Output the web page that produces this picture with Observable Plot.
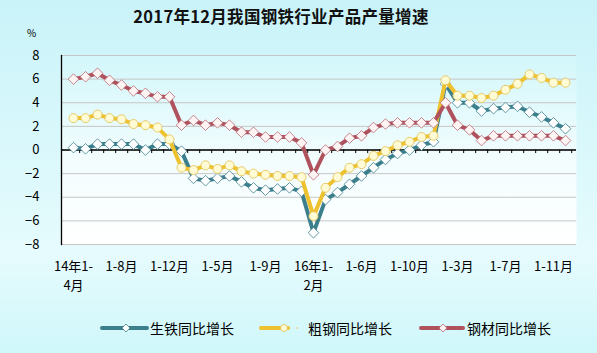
<!DOCTYPE html>
<html>
<head>
<meta charset="utf-8">
<script src="https://cdn.jsdelivr.net/npm/d3@7"></script>
<script src="https://cdn.jsdelivr.net/npm/@observablehq/plot@0.6"></script>
<style>
html, body { margin: 0; padding: 0; }
body {
  width: 597px; height: 353px; overflow: hidden; position: relative;
  background: linear-gradient(#c9f3f9 0%, #d9f8fb 40%, #e6fbfd 72%, #cff7fa 100%);
  font-family: "Noto Sans CJK SC", sans-serif; color: #000;
}
#title { position: absolute; left: 0; width: 562px; top: 4px; text-align: center;
  font-weight: bold; font-size: 16.5px; letter-spacing: 0.3px; color: #111; }
#unit { position: absolute; left: 27px; top: 25px; font-size: 10px; }
#chart { position: absolute; left: 0; top: 0; }
.leg { position: absolute; top: 318px; height: 20px; line-height: 20px; font-size: 14px; }
.sw { position: absolute; top: 318px; }
</style>
</head>
<body>
<div id="title">2017年12月我国钢铁行业产品产量增速</div>
<div id="unit">%</div>
<div id="chart"></div>
<script>
// categories (cumulative periods)
const categories = [
  "2014年1-4月","2014年1-5月","2014年1-6月","2014年1-7月","2014年1-8月","2014年1-9月","2014年1-10月","2014年1-11月","2014年1-12月",
  "2015年1-2月","2015年1-3月","2015年1-4月","2015年1-5月","2015年1-6月","2015年1-7月","2015年1-8月","2015年1-9月","2015年1-10月","2015年1-11月","2015年1-12月",
  "2016年1-2月","2016年1-3月","2016年1-4月","2016年1-5月","2016年1-6月","2016年1-7月","2016年1-8月","2016年1-9月","2016年1-10月","2016年1-11月","2016年1-12月",
  "2017年1-2月","2017年1-3月","2017年1-4月","2017年1-5月","2017年1-6月","2017年1-7月","2017年1-8月","2017年1-9月","2017年1-10月","2017年1-11月","2017年1-12月"
];
// series values (%)
const pigIron = [0.2,0.1,0.5,0.5,0.5,0.5,0.0,0.5,0.5,
  -0.1,-2.4,-2.6,-2.4,-2.2,-2.7,-3.2,-3.4,-3.3,-3.2,-3.5,
  -7.0,-4.2,-3.6,-2.9,-2.2,-1.5,-0.8,-0.3,0.0,0.4,0.7,
  5.6,4.0,4.0,3.3,3.5,3.6,3.7,3.2,2.8,2.3,1.8];
const crudeSteel = [2.7,2.7,3.0,2.7,2.6,2.2,2.1,1.9,0.9,
  -1.5,-1.7,-1.3,-1.6,-1.3,-1.8,-2.0,-2.1,-2.2,-2.2,-2.3,
  -5.6,-3.2,-2.3,-1.5,-1.2,-0.5,-0.1,0.4,0.7,1.1,1.2,
  5.9,4.6,4.6,4.4,4.6,5.1,5.6,6.4,6.1,5.7,5.7];
const steelProducts = [6.0,6.2,6.5,5.9,5.5,5.0,4.8,4.5,4.5,
  2.1,2.5,2.1,2.3,2.1,1.5,1.5,1.1,1.1,1.1,0.6,
  -2.1,0.0,0.3,1.0,1.2,1.9,2.2,2.3,2.3,2.3,2.3,
  4.0,2.1,1.7,0.8,1.2,1.2,1.2,1.2,1.2,1.2,0.8];
const seriesNames = ["生铁同比增长","粗钢同比增长","钢材同比增长"];
// tick labels
const yTicks = [-8,-6,-4,-2,0,2,4,6,8];
const tickCategories = ["2014年1-4月","2014年1-8月","2014年1-12月","2015年1-5月","2015年1-9月","2016年1-2月","2016年1-6月","2016年1-10月","2017年1-3月","2017年1-7月","2017年1-11月"];
const tickLabels = ["14年1-\n4月","1-8月","1-12月","1-5月","1-9月","16年1-\n2月","1-6月","1-10月","1-3月","1-7月","1-11月"];

const colors = { teal: "#3b7f8d", yellow: "#eec22e", red: "#b0525e" };

const mk = (vals) => categories.map((c, i) => ({ cat: c, v: vals[i] }));
const dIron = mk(pigIron), dCrude = mk(crudeSteel), dProd = mk(steelProducts);

const W = 597, ML = 61, MR = 21, PAD = 0.35;
const step = (W - ML - MR) / (categories.length - 1 + 2 * PAD);

const chart = Plot.plot({
  width: W, height: 300,
  marginLeft: ML, marginRight: MR, marginTop: 55, marginBottom: 56,
  style: { background: "transparent", fontFamily: "Noto Sans CJK SC, sans-serif", fontSize: "13px", color: "#000", overflow: "visible" },
  x: { type: "point", domain: categories, padding: PAD },
  y: { domain: [-8, 8] },
  marks: [
    Plot.frame({ fill: "white", stroke: "none" }),
    Plot.gridY(yTicks, { stroke: "#c6c6c6", strokeOpacity: 1, strokeWidth: 1 }),
    Plot.ruleY([0], { stroke: "#000", strokeWidth: 1.3 }),
    Plot.ruleX(categories, { x: d => d, y1: 0, y2: -0.3, dx: step / 2, stroke: "#000", strokeWidth: 1 }),
    Plot.frame({ anchor: "left", stroke: "#000", strokeWidth: 1.3 }),
    Plot.axisY({ ticks: yTicks, tickSize: 0, tickPadding: 22, fontSize: 13, label: null, tickFormat: d => (d < 0 ? "−" + (-d) : String(d)) }),
    Plot.axisX({ ticks: tickCategories, tickFormat: d => tickLabels[tickCategories.indexOf(d)], tickSize: 0, tickPadding: 13, lineHeight: 1.45, fontSize: 13, label: null }),
    Plot.line(dIron, { x: "cat", y: "v", stroke: colors.teal, strokeWidth: 4 }),
    Plot.dot(dIron, { x: "cat", y: "v", symbol: "diamond2", r: 4.8, fill: "#ffffff", stroke: colors.teal, strokeWidth: 0.8 }),
    Plot.line(dCrude, { x: "cat", y: "v", stroke: colors.yellow, strokeWidth: 4 }),
    Plot.dot(dCrude, { x: "cat", y: "v", r: 4.5, fill: "#fffbd4", stroke: "#e5c55a", strokeWidth: 0.9 }),
    Plot.line(dProd, { x: "cat", y: "v", stroke: colors.red, strokeWidth: 4 }),
    Plot.dot(dProd, { x: "cat", y: "v", symbol: "diamond2", r: 4.8, fill: "#fff4f4", stroke: "#b86a74", strokeWidth: 0.8 })
  ]
});

// plot-area gradient (cyan top fading to white)
const svg = d3.select(chart);
const defs = svg.insert("defs", ":first-child");
const g = defs.append("linearGradient").attr("id", "plotGrad").attr("x1", 0).attr("y1", 0).attr("x2", 0).attr("y2", 1);
g.append("stop").attr("offset", "0%").attr("stop-color", "#d3f7fb");
g.append("stop").attr("offset", "55%").attr("stop-color", "#f3fdfe");
g.append("stop").attr("offset", "100%").attr("stop-color", "#ffffff");
const fr = svg.select("[aria-label=frame]");
(fr.node() && fr.node().tagName === "g" ? fr.select("rect") : fr).attr("fill", "url(#plotGrad)");

document.getElementById("chart").appendChild(chart);

// legend
const legendItems = [
  { name: seriesNames[0], color: colors.teal, marker: "diamond", mfill: "#fff", mstroke: colors.teal, x1: 102, x2: 147, mx: 126, tx: 150 },
  { name: seriesNames[1], color: colors.yellow, marker: "circle", mfill: "#fffbd4", mstroke: "#e5c55a", x1: 261, x2: 288, mx: 284, tx: 308, dot: 297 },
  { name: seriesNames[2], color: colors.red, marker: "diamond", mfill: "#fff4f4", mstroke: "#b86a74", x1: 421, x2: 463, mx: 443, tx: 467 }
];
for (const it of legendItems) {
  const s = d3.select(document.body).append("svg").attr("class", "sw")
    .style("left", (it.x1 - 2) + "px").attr("width", 50).attr("height", 20);
  const ox = 2;
  s.append("line").attr("x1", ox).attr("x2", ox + it.x2 - it.x1).attr("y1", 10).attr("y2", 10)
    .attr("stroke", it.color).attr("stroke-width", 4).attr("stroke-linecap", "round");
  const cx = ox + it.mx - it.x1;
  if (it.marker === "circle") {
    s.append("circle").attr("cx", cx).attr("cy", 10).attr("r", 3.5).attr("fill", it.mfill).attr("stroke", it.mstroke).attr("stroke-width", 0.9);
  } else {
    s.append("path").attr("d", `M${cx},6 L${cx + 4},10 L${cx},14 L${cx - 4},10 Z`).attr("fill", it.mfill).attr("stroke", it.mstroke).attr("stroke-width", 0.8);
  }
  if (it.dot) {
    s.append("circle").attr("cx", ox + it.dot - it.x1).attr("cy", 10).attr("r", 1).attr("fill", "#e8d890");
  }
  d3.select(document.body).append("div").attr("class", "leg").style("left", it.tx + "px").text(it.name);
}
</script>
</body>
</html>
